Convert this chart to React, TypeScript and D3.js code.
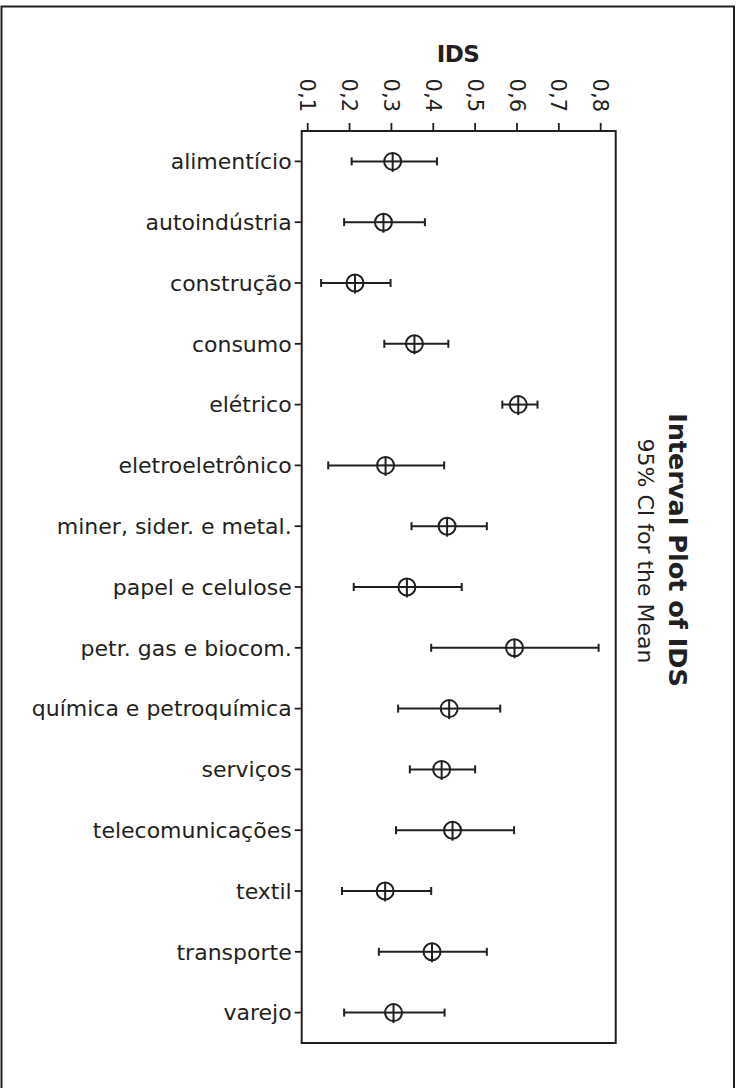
import React from "react";
import * as d3 from "d3";

// Sectors (top to bottom) and the 95% confidence interval of the mean IDS
const sectors = [
  "alimentício",
  "autoindústria",
  "construção",
  "consumo",
  "elétrico",
  "eletroeletrônico",
  "miner, sider. e metal.",
  "papel e celulose",
  "petr. gas e biocom.",
  "química e petroquímica",
  "serviços",
  "telecomunicações",
  "textil",
  "transporte",
  "varejo",
];
const means = [0.303, 0.281, 0.213, 0.355, 0.603, 0.286, 0.433, 0.337, 0.594, 0.438, 0.42, 0.446, 0.285, 0.397, 0.305];
const lower = [0.205, 0.187, 0.132, 0.283, 0.565, 0.149, 0.348, 0.21, 0.395, 0.316, 0.344, 0.311, 0.182, 0.27, 0.187];
const upper = [0.409, 0.38, 0.298, 0.436, 0.649, 0.426, 0.528, 0.468, 0.795, 0.56, 0.5, 0.593, 0.395, 0.528, 0.427];
const ticks = [0.1, 0.2, 0.3, 0.4, 0.5, 0.6, 0.7, 0.8];

const W = 742;
const H = 1088;
const box = { left: 301.7, right: 615.7, top: 131, bottom: 1043 };
const ink = "#231f20";
const font = "'DejaVu Sans', Verdana, sans-serif";

export default function App() {
  const x = d3.scaleLinear().domain([0.1, 0.8]).range([307.7, 600.7]);
  const y = d3.scalePoint<string>().domain(sectors).range([box.top, box.bottom]).padding(0.5);
  const fmt = (v: number) => d3.format(".1f")(v).replace(".", ",");
  const r = 8.5;
  const cap = 4;

  return (
    <svg
      width={W}
      height={H}
      style={{ position: "absolute", left: 0, top: 0, background: "#fff" }}
      fontFamily={font}
    >
      {/* figure frame */}
      <rect x={1.5} y={6.5} width={732.5} height={H + 20} fill="none" stroke={ink} strokeWidth={2} />

      {/* data region */}
      <rect
        x={box.left}
        y={box.top}
        width={box.right - box.left}
        height={box.bottom - box.top}
        fill="none"
        stroke={ink}
        strokeWidth={2}
      />

      {/* value axis along the top */}
      {ticks.map((t) => (
        <g key={t}>
          <line x1={x(t)} x2={x(t)} y1={box.top} y2={box.top - 8} stroke={ink} strokeWidth={1.8} />
          <text
            transform={`translate(${x(t)},${112}) rotate(90)`}
            textAnchor="end"
            dy="0.35em"
            fontSize={21}
            fill={ink}
          >
            {fmt(t)}
          </text>
        </g>
      ))}
      <text x={458} y={62} textAnchor="middle" fontSize={23} fontWeight="bold" fill={ink} letterSpacing={-0.5}>
        IDS
      </text>

      {/* category axis */}
      {sectors.map((s) => (
        <g key={s}>
          <line x1={box.left - 7} x2={box.left} y1={y(s)} y2={y(s)} stroke={ink} strokeWidth={1.8} />
          <text x={box.left - 10} y={y(s)} dy="0.35em" textAnchor="end" fontSize={22} fill={ink}>
            {s}
          </text>
        </g>
      ))}

      {/* intervals with mean symbols */}
      {sectors.map((s, i) => {
        const cy = y(s)!;
        const cx = x(means[i]);
        return (
          <g key={s} stroke={ink} strokeWidth={2} fill="none">
            <line x1={x(lower[i])} x2={x(upper[i])} y1={cy} y2={cy} />
            <line x1={x(lower[i])} x2={x(lower[i])} y1={cy - cap} y2={cy + cap} />
            <line x1={x(upper[i])} x2={x(upper[i])} y1={cy - cap} y2={cy + cap} />
            <circle cx={cx} cy={cy} r={r} fill="#fff" />
            <line x1={cx - r} x2={cx + r} y1={cy} y2={cy} />
            <line x1={cx} x2={cx} y1={cy - r} y2={cy + r + 2} />
          </g>
        );
      })}

      {/* chart title, set vertically on the right */}
      <text
        transform={`translate(669,550) rotate(90)`}
        textAnchor="middle"
        fontSize={25.5}
        fontWeight="bold"
        fill={ink}
      >
        Interval Plot of IDS
      </text>
      <text transform={`translate(638,551) rotate(90)`} textAnchor="middle" fontSize={22} fill={ink}>
        95% CI for the Mean
      </text>
    </svg>
  );
}
